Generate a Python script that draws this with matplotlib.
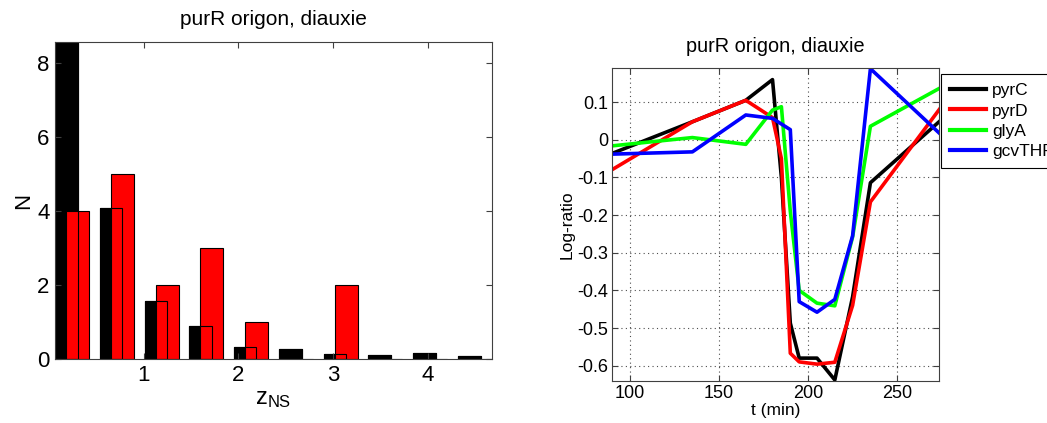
import numpy as np
import matplotlib
matplotlib.use('Agg')
import matplotlib.pyplot as plt

plt.rcParams['font.family'] = ['Liberation Sans', 'DejaVu Sans']

# histogram of z_NS: black = all genes, red = purR origon
z_centers = [0.183, 0.655, 1.13, 1.60, 2.07, 2.55, 3.02, 3.49, 3.97, 4.44]
n_all = [11.0, 4.08, 1.57, 0.89, 0.32, 0.27, 0.135, 0.11, 0.16, 0.08]
n_purR = [4, 5, 2, 3, 1, 0, 2, 0, 0, 0]

# time courses (log-ratio)
t_min = [90, 135, 165, 180, 185, 190, 195, 205, 215, 225, 235, 275]
pyrC = [-0.036, 0.048, 0.105, 0.16, -0.10, -0.487, -0.58, -0.58, -0.638, -0.417, -0.114, 0.054]
pyrD = [-0.079, 0.048, 0.105, 0.059, -0.05, -0.567, -0.59, -0.596, -0.591, -0.44, -0.165, 0.089]
glyA = [-0.016, 0.006, -0.012, 0.079, 0.088, -0.19, -0.40, -0.434, -0.441, -0.258, 0.036, 0.14]
gcvTHP = [-0.038, -0.032, 0.066, 0.057, 0.042, 0.027, -0.43, -0.458, -0.424, -0.255, 0.189, 0.012]

title = 'purR origon, diauxie'
spine_col = '0.25'

fig = plt.figure(figsize=(10.47, 4.23), dpi=100)

# ---- left: histogram
ax1 = fig.add_axes([0.0525, 0.1513, 0.4174, 0.7494])
w = 0.24
xc = np.array(z_centers)
ax1.bar(xc, n_all, width=w, color='black', edgecolor='black', linewidth=0.8)
ax1.bar(xc + 0.12, n_purR, width=w, color='red', edgecolor='black', linewidth=0.8)
# outline of the black bars on top of the red ones
ax1.bar(xc, n_all, width=w, facecolor='none', edgecolor='black', linewidth=0.8)
ax1.set_xlim(0.063, 4.68)
ax1.set_ylim(0, 8.57)
ax1.set_xticks([1, 2, 3, 4])
ax1.set_yticks([0, 2, 4, 6, 8])
ax1.tick_params(direction='in', top=True, right=True, labelsize=16, length=4,
                pad=4, color=spine_col)
ax1.set_title(title, fontsize=15, pad=12)
ax1.set_xlabel(r'$\mathregular{z_{NS}}$', fontsize=17, labelpad=2)
ax1.set_ylabel('N', fontsize=16, labelpad=2)
for s in ax1.spines.values():
    s.set_color(spine_col)

# ---- right: time courses
ax2 = fig.add_axes([0.5848, 0.1, 0.312, 0.7385])
ax2.plot(t_min, pyrC, color='black', lw=2.6, label='pyrC')
ax2.plot(t_min, pyrD, color='red', lw=2.6, label='pyrD')
ax2.plot(t_min, glyA, color='#00ff00', lw=2.6, label='glyA')
ax2.plot(t_min, gcvTHP, color='blue', lw=2.6, label='gcvTHP')
ax2.set_xlim(90, 273.5)
ax2.set_ylim(-0.64, 0.19)
ax2.set_xticks([100, 150, 200, 250])
ax2.set_yticks([-0.6, -0.5, -0.4, -0.3, -0.2, -0.1, 0, 0.1])
ax2.set_yticklabels(['-0.6', '-0.5', '-0.4', '-0.3', '-0.2', '-0.1', '0', '0.1'])
ax2.grid(True, color='0.3', linestyle=(0, (1, 3)), linewidth=0.8)
ax2.tick_params(direction='in', top=True, right=True, labelsize=13, length=4,
                pad=3, color=spine_col)
ax2.set_title(title, fontsize=14.3, pad=12)
ax2.set_xlabel('t (min)', fontsize=12.5, labelpad=1)
ax2.set_ylabel('Log-ratio', fontsize=12.5, labelpad=2)
for s in ax2.spines.values():
    s.set_color(spine_col)

leg = ax2.legend(loc='upper left', bbox_to_anchor=(0.8988, 0.8243),
                 bbox_transform=fig.transFigure, fontsize=12.5, frameon=True,
                 fancybox=False, edgecolor='black', framealpha=1,
                 handlelength=2.1, handletextpad=0.35, labelspacing=0.3,
                 borderpad=0.5, borderaxespad=0)
leg.get_frame().set_linewidth(0.8)
for h in leg.get_lines():
    h.set_linewidth(3.0)

plt.savefig('out.png', dpi=100)
